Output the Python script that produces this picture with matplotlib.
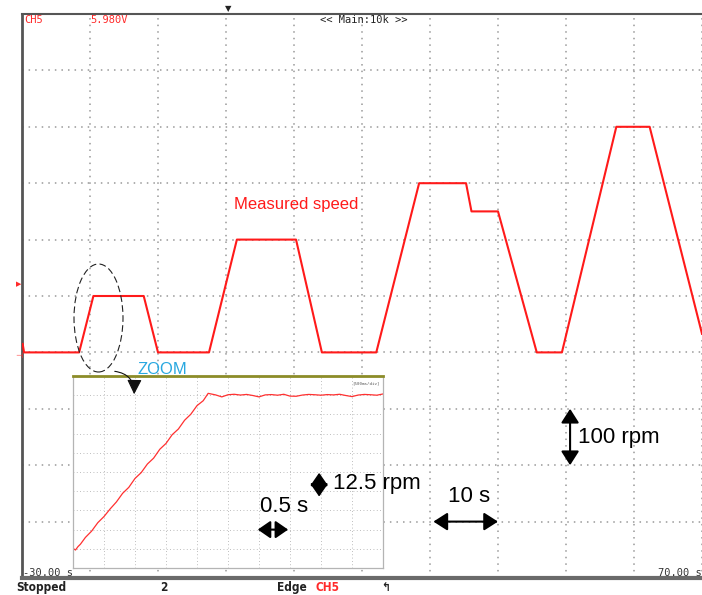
import numpy as np
import matplotlib
matplotlib.use("Agg")
import matplotlib.pyplot as plt
from matplotlib.patches import Ellipse, FancyArrowPatch

# main trace: time (s) / speed (rpm)
speed_t = [-29.9, -29.7, -21.6, -19.5, -12.1, -10.0, -2.5, 1.6, 10.3, 14.1,
           22.1, 28.4, 35.3, 36.1, 40.0, 45.7, 49.4, 57.4, 62.3, 70.0]
speed_rpm = [15, 0, 0, 100, 100, 0, 0, 200, 200, 0,
             0, 300, 300, 250, 250, 0, 0, 400, 400, 33]

# zoomed window (0.5 s/div, 12.5 rpm/div)
zoom_t = [0.0, 0.04, 0.08, 0.12, 0.2, 0.3, 0.4, 0.5, 0.6, 0.7, 0.8, 0.9,
          1.0, 1.1, 1.2, 1.3, 1.4, 1.5, 1.6, 1.7, 1.8, 1.9, 2.0, 2.1, 2.18,
          2.3, 2.4, 2.5, 2.6, 2.7, 2.8, 2.9, 3.0, 3.1, 3.2, 3.3, 3.4, 3.5,
          3.6, 3.7, 3.8, 3.9, 4.0, 4.1, 4.2, 4.3, 4.4, 4.5, 4.6, 4.7, 4.8,
          4.9, 5.0]
zoom_rpm = [0.3, -0.8, 1.4, 3.0, 7.4, 11.5, 17.0, 21.0, 26.0, 30.5, 36.1,
            40.0, 45.8, 49.6, 55.2, 59.0, 64.8, 68.6, 74.3, 78.0, 83.7,
            87.6, 93.2, 96.4, 101.2,
            100.2, 98.9, 100.3, 100.6, 100.1, 100.5, 99.8, 98.9, 100.2,
            100.4, 100.0, 100.6, 99.4, 99.3, 100.1, 100.5, 100.3, 100.0,
            100.4, 100.2, 100.6, 99.8, 99.1, 100.1, 100.5, 100.3, 100.0, 100.8]

x_ticks = np.arange(-30, 71, 10)
y_ticks = np.arange(-400, 601, 100)
zx_ticks = np.arange(0, 5.01, 0.5)
zy_ticks = np.arange(-12.5, 112.6, 12.5)

W, H = 702, 595


def fp(x, y):
    # pixel position -> figure fraction
    return x / W, 1 - y / H


fig = plt.figure(figsize=(W / 100, H / 100), dpi=100)

ax = fig.add_axes([22 / W, 1 - 578 / H, 680 / W, 564 / H])
ax.plot(speed_t, speed_rpm, color="#ff1a1a", lw=1.5, zorder=3)
ax.set_xlim(-30, 70)
ax.set_ylim(-400, 600)
ax.set_xticks(x_ticks)
ax.set_yticks(y_ticks)
ax.tick_params(length=0, labelbottom=False, labelleft=False)
ax.grid(True, color="#999999", linestyle=(0, (1.0, 3.3)), linewidth=1.1)
ax.spines["right"].set_visible(False)
ax.spines["left"].set_color("#555555")
ax.spines["left"].set_linewidth(2)
ax.spines["top"].set_color("#555555")
ax.spines["top"].set_linewidth(1.5)
ax.spines["bottom"].set_color("#6a6a6a")
ax.spines["bottom"].set_linewidth(3)

# scale arrows on the main screen
big_head = "<|-|>,head_length=0.5,head_width=0.32"
ax.annotate("", xy=(50.6, -100), xytext=(50.6, -200),
            arrowprops=dict(arrowstyle=big_head, mutation_scale=17, lw=1.5,
                            color="black", shrinkA=0, shrinkB=0))
ax.annotate("", xy=(30.5, -300), xytext=(40.0, -300),
            arrowprops=dict(arrowstyle=big_head, mutation_scale=17, lw=1.5,
                            color="black", shrinkA=0, shrinkB=0))

# zoom inset
ins = fig.add_axes([73 / W, 1 - 568 / H, 310 / W, 192 / H], zorder=5)
ins.set_facecolor("white")
ins.plot(zoom_t, zoom_rpm, color="#ff3030", lw=0.9)
ins.set_xlim(0, 5)
ins.set_ylim(-12.5, 112.5)
ins.set_xticks(zx_ticks)
ins.set_yticks(zy_ticks)
ins.tick_params(length=0, labelbottom=False, labelleft=False)
ins.grid(True, color="#a8a8a8", linestyle=(0, (1, 3)), linewidth=0.6)
for s in ["left", "right", "bottom"]:
    ins.spines[s].set_color("#b4b4b4")
    ins.spines[s].set_linewidth(0.9)
ins.spines["top"].set_color("#8c8c28")
ins.spines["top"].set_linewidth(2)
ins.text(0.99, 0.96, "[500ms/div]", transform=ins.transAxes, ha="right",
         va="center", fontsize=3, color="#555555", family="DejaVu Sans Mono")

small_head = "<|-|>,head_length=0.55,head_width=0.38"
ins.annotate("", xy=(2.98, 12.5), xytext=(3.47, 12.5), annotation_clip=False,
             arrowprops=dict(arrowstyle=small_head, mutation_scale=14, lw=1.5,
                             color="black", shrinkA=0, shrinkB=0))
ins.annotate("", xy=(3.97, 49.5), xytext=(3.97, 34), annotation_clip=False,
             arrowprops=dict(arrowstyle=small_head, mutation_scale=14, lw=1.5,
                             color="black", shrinkA=0, shrinkB=0))

# labels
sans = "Liberation Sans"
mono = "DejaVu Sans Mono"
fig.text(*fp(296, 204), "Measured speed", color="#ff1a1a", fontsize=12,
         family=sans, ha="center", va="center")
fig.text(*fp(162, 369), "ZOOM", color="#29a8e0", fontsize=12,
         family=sans, ha="center", va="center")
fig.text(*fp(578, 437), "100 rpm", fontsize=16, family=sans,
         ha="left", va="center")
fig.text(*fp(469, 497), "10 s", fontsize=16, family=sans,
         ha="center", va="center")
fig.text(*fp(333, 483), "12.5 rpm", fontsize=16, family=sans,
         ha="left", va="center", zorder=10)
fig.text(*fp(284, 507), "0.5 s", fontsize=16, family=sans,
         ha="center", va="center", zorder=10)

# scope readouts
fig.text(*fp(24, 20), "CH5", color="#ff2a2a", fontsize=7.5, family=mono,
         ha="left", va="center")
fig.text(*fp(90, 20), "5.980V", color="#ff2a2a", fontsize=7.5, family=mono,
         ha="left", va="center")
fig.text(*fp(320, 20), "<< Main:10k >>", color="#222222", fontsize=7.5,
         family=mono, ha="left", va="center")
fig.text(*fp(228, 9), "\u25bc", color="#222222", fontsize=6,
         ha="center", va="center")
fig.text(*fp(23, 573), "-30.00 s", color="#333333", fontsize=7.5,
         family=mono, ha="left", va="center", zorder=10)
fig.text(*fp(702, 573), "70.00 s", color="#333333", fontsize=7.5,
         family=mono, ha="right", va="center", zorder=10)
fig.text(*fp(19, 284), "\u25b6", color="#ff2a2a", fontsize=5,
         ha="center", va="center")
fig.text(*fp(19, 355), "\u22a3", color="#ff2a2a", fontsize=6,
         ha="center", va="center")

bottom = dict(fontsize=8.5, family="DejaVu Sans", fontweight="bold",
              fontstretch="condensed", va="top", ha="left")
fig.text(*fp(16, 581), "Stopped", color="#222222", **bottom)
fig.text(*fp(160, 581), "2", color="#222222", **bottom)
fig.text(*fp(277, 581), "Edge", color="#222222", **bottom)
fig.text(*fp(316, 581), "CH5", color="#ff2a2a", **bottom)
fig.text(*fp(381, 581), "\u21b0", color="#222222", **bottom)

# dashed ellipse around the first ramp and the curved pointer
cx, cy = fp(98.5, 318)
fig.add_artist(Ellipse((cx, cy), 49 / W, 108 / H, transform=fig.transFigure,
                       fill=False, ec="#222222", lw=0.8,
                       linestyle=(0, (6, 3)), zorder=6))
fig.add_artist(FancyArrowPatch(fp(112, 371), fp(134, 397),
                               transform=fig.transFigure,
                               connectionstyle="arc3,rad=-0.5",
                               arrowstyle="-|>,head_length=0.6,head_width=0.3",
                               mutation_scale=15, lw=0.8, color="#111111",
                               zorder=7))

fig.savefig("out.png", dpi=100)
